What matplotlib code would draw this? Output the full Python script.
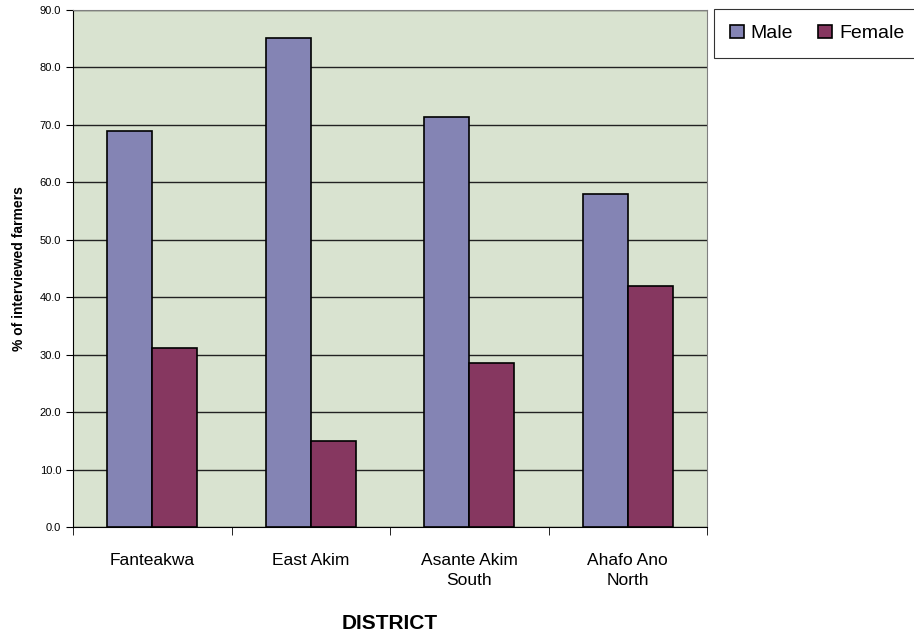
import numpy as np
from matplotlib import pyplot as plt

districts = ['Fanteakwa', 'East Akim', 'Asante Akim\nSouth', 'Ahafo Ano\nNorth']
male = [68.9, 85.1, 71.4, 58.0]
female = [31.1, 14.9, 28.6, 42.0]

plt.rcParams['font.family'] = ['Liberation Sans', 'DejaVu Sans']

fig = plt.figure(figsize=(9.14, 6.35), dpi=100)
ax = fig.add_axes([73 / 914, 1 - 527 / 635, 634 / 914, 517 / 635])
ax.set_facecolor('#d9e3d0')

x = np.arange(len(districts))
w = 0.285
ax.bar(x - w / 2, male, w, color='#8484b4', edgecolor='black', linewidth=1.2,
       label='Male', zorder=3)
ax.bar(x + w / 2, female, w, color='#863760', edgecolor='black', linewidth=1.2,
       label='Female', zorder=3)

ax.set_xlim(-0.5, len(districts) - 0.5)
ax.set_ylim(0, 90)
ax.set_yticks(np.arange(0, 91, 10))
ax.set_yticklabels([f'{v:.1f}' for v in np.arange(0, 91, 10)], fontsize=8)
ax.yaxis.grid(True, color='#222222', linewidth=1.0, zorder=1)

# category labels in the middle, tick marks on the boundaries
ax.set_xticks(x)
ax.set_xticklabels(districts, fontsize=12.5, linespacing=1.35)
ax.tick_params(axis='x', length=0, pad=19)
ax.set_xticks(np.arange(-0.5, len(districts)), minor=True)
ax.tick_params(axis='x', which='minor', length=6, direction='out')
ax.tick_params(axis='y', length=5, direction='out')

for s in ['top', 'right']:
    ax.spines[s].set_color('#808080')
ax.spines['left'].set_color('black')
ax.spines['bottom'].set_color('black')

ax.set_ylabel('% of interviewed farmers', fontsize=10, fontweight='bold', labelpad=10)
ax.set_xlabel('DISTRICT', fontsize=15, fontweight='bold', labelpad=19)

leg = fig.legend(loc='upper left', bbox_to_anchor=(714 / 914, 1 - 9 / 635), ncol=2,
                 fontsize=14, frameon=True, fancybox=False, handlelength=0.72,
                 handleheight=0.72, handletextpad=0.36, columnspacing=1.3,
                 borderpad=0.8, borderaxespad=0)
leg.get_frame().set_edgecolor('black')
leg.get_frame().set_linewidth(0.8)

fig.savefig('out.png', dpi=100)
